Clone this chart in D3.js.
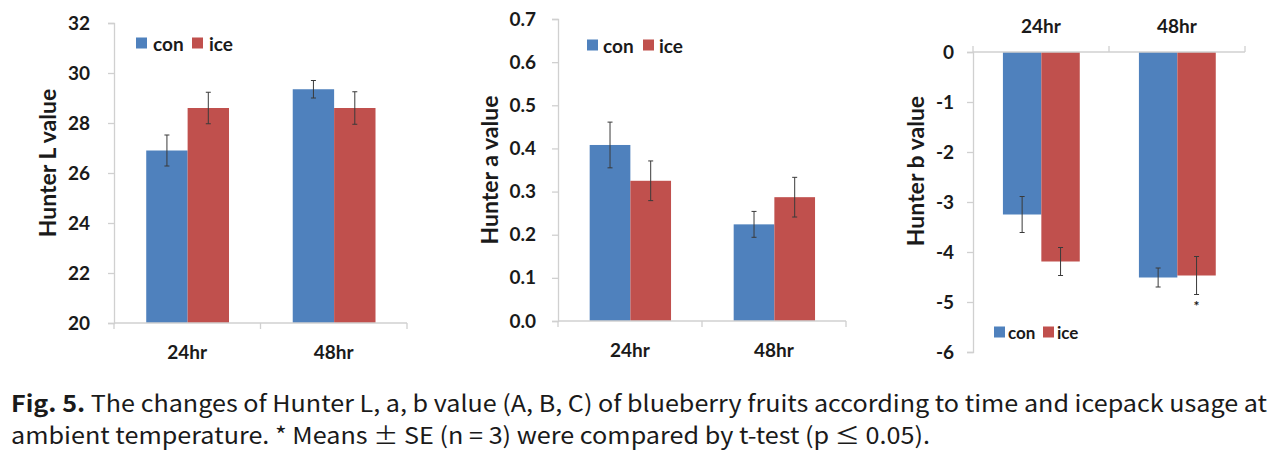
<!DOCTYPE html>
<html>
<head>
<meta charset="utf-8">
<script src="https://cdn.jsdelivr.net/npm/d3@7"></script>
<style>
  html, body { margin: 0; padding: 0; background: #fff; }
  svg { display: block; }
  .lbl { font-family: Lato, "DejaVu Sans", sans-serif; font-weight: 700; fill: #1a1a1a; }
</style>
</head>
<body>
<svg id="chart" width="1287" height="454"></svg>
<script>
// ---------------- data ----------------
const categories = ["24hr", "48hr"];
const series = ["con", "ice"];

const L_con = [26.9, 29.35];
const L_ice = [28.6, 28.6];
const L_con_se = [0.62, 0.35];
const L_ice_se = [0.63, 0.65];
const L_ticks = [20, 22, 24, 26, 28, 30, 32];

const a_con = [0.408, 0.224];
const a_ice = [0.325, 0.287];
const a_con_se = [0.053, 0.030];
const a_ice_se = [0.046, 0.046];
const a_ticks = [0.0, 0.1, 0.2, 0.3, 0.4, 0.5, 0.6, 0.7];

const b_con = [-3.25, -4.51];
const b_ice = [-4.19, -4.47];
const b_con_se = [0.36, 0.19];
const b_ice_se = [0.28, 0.38];
const b_ticks = [0, -1, -2, -3, -4, -5, -6];
const b_signif = ["", "*"]; // marker under ice bars

const yTitles = ["Hunter L value", "Hunter a value", "Hunter b value"];
const captionBold = "Fig. 5.";
const captionLine1 = " The changes of Hunter L, a, b value (A, B, C) of blueberry fruits according to time and icepack usage at";
const captionLine2 = "ambient temperature. * Means \u00B1 SE (n = 3) were compared by t-test (p \u2264 0.05).";

// ---------------- style ----------------
const colors = { con: "#4f81bd", ice: "#c0504d" };
const axisColor = "#d0d0d0";
const errColor = "#3a3a3a";

const svg = d3.select("#chart");
svg.append("rect").attr("width", 1287).attr("height", 454).attr("fill", "#fff");

function panel(cfg) {
  const g = svg.append("g");
  const x0 = d3.scaleBand().domain(categories).range([cfg.x0, cfg.x1]).padding(0);
  const bw = x0.bandwidth();
  const x1 = d3.scaleBand().domain(series).range([bw * 0.22, bw * 0.785]).padding(0);
  const y = d3.scaleLinear().domain(cfg.domain).range([cfg.yBottom, cfg.yTop]);

  const rows = [];
  categories.forEach((c, i) => {
    rows.push({ c, s: "con", v: cfg.con[i], e: cfg.conSe[i], m: "" });
    rows.push({ c, s: "ice", v: cfg.ice[i], e: cfg.iceSe[i], m: cfg.marks ? cfg.marks[i] : "" });
  });

  // bars
  g.selectAll("rect.bar").data(rows).enter().append("rect")
    .attr("class", "bar")
    .attr("x", d => x0(d.c) + x1(d.s))
    .attr("width", x1.bandwidth())
    .attr("y", d => Math.min(y(d.v), y(cfg.base)))
    .attr("height", d => Math.abs(y(d.v) - y(cfg.base)))
    .attr("fill", d => colors[d.s]);

  // error bars
  const eg = g.selectAll("g.err").data(rows).enter().append("g").attr("class", "err");
  const cx = d => x0(d.c) + x1(d.s) + x1.bandwidth() / 2;
  eg.append("line")
    .attr("x1", cx).attr("x2", cx)
    .attr("y1", d => y(d.v - d.e)).attr("y2", d => y(d.v + d.e))
    .attr("stroke", errColor).attr("stroke-width", 1);
  [1, -1].forEach(sgn => {
    eg.append("line")
      .attr("x1", d => cx(d) - 2.5).attr("x2", d => cx(d) + 2.5)
      .attr("y1", d => y(d.v + sgn * d.e)).attr("y2", d => y(d.v + sgn * d.e))
      .attr("stroke", errColor).attr("stroke-width", 1);
  });
  // significance markers
  eg.filter(d => d.m).append("text")
    .attr("class", "lbl")
    .attr("x", cx)
    .attr("y", d => y(d.v - d.e) + 16)
    .attr("text-anchor", "middle")
    .style("font-size", "14px")
    .text(d => d.m);

  // y axis
  const yAxis = d3.axisLeft(y).tickValues(cfg.ticks).tickSize(6).tickPadding(cfg.tickPad)
    .tickFormat(cfg.fmt);
  const ya = g.append("g").attr("transform", `translate(${cfg.x0},0)`).call(yAxis);
  ya.select(".domain").attr("stroke", axisColor).attr("stroke-width", 1.3);
  ya.selectAll(".tick line").attr("stroke", axisColor).attr("stroke-width", 1.3);
  ya.selectAll(".tick text").attr("class", "lbl").style("font-size", "19px").attr("fill", "#1a1a1a");

  // x axis (category boundaries ticks)
  const xBase = y(cfg.base);
  const bounds = [cfg.x0].concat(categories.map(c => x0(c) + bw));
  g.append("line").attr("x1", cfg.x0).attr("x2", cfg.x1).attr("y1", xBase).attr("y2", xBase)
    .attr("stroke", axisColor).attr("stroke-width", 1.3);
  g.selectAll("line.xt").data(bounds).enter().append("line").attr("class", "xt")
    .attr("x1", d => d).attr("x2", d => d)
    .attr("y1", xBase).attr("y2", xBase + cfg.xTickDir * 6)
    .attr("stroke", axisColor).attr("stroke-width", 1.3);
  g.selectAll("text.xl").data(categories).enter().append("text")
    .attr("class", "lbl")
    .attr("x", d => x0(d) + bw / 2)
    .attr("y", cfg.catY)
    .attr("text-anchor", "middle")
    .attr("dominant-baseline", "central")
    .style("font-size", "19px")
    .text(d => d);

  // y title
  g.append("text").attr("class", "lbl")
    .attr("transform", `translate(${cfg.titleX},${cfg.titleY}) rotate(-90)`)
    .attr("text-anchor", "middle")
    .attr("dominant-baseline", "central")
    .style("font-size", "23px")
    .text(cfg.title);

  // legend
  const lg = g.append("g").attr("transform", `translate(${cfg.legX},${cfg.legY})`);
  const items = lg.selectAll("g").data(series).enter().append("g")
    .attr("transform", (d, i) => `translate(${i * cfg.legStep},0)`);
  items.append("rect").attr("x", 0).attr("y", -5.5).attr("width", 11).attr("height", 11)
    .attr("fill", d => colors[d]);
  items.append("text").attr("class", "lbl")
    .attr("x", cfg.legTextDx).attr("y", 0)
    .attr("dominant-baseline", "central")
    .style("font-size", cfg.legFont + "px")
    .text(d => d);
}

const plainInt = d => String(d);
const oneDec = d => d.toFixed(1);

panel({
  x0: 114, x1: 407, yTop: 23, yBottom: 323, domain: [20, 32], base: 20,
  con: L_con, ice: L_ice, conSe: L_con_se, iceSe: L_ice_se,
  ticks: L_ticks, fmt: plainInt, tickPad: 18,
  xTickDir: 1, catY: 351, title: yTitles[0], titleX: 47, titleY: 163,
  legX: 136, legY: 43, legStep: 56, legTextDx: 17, legFont: 19
});

panel({
  x0: 558, x1: 846, yTop: 19, yBottom: 321, domain: [0, 0.7], base: 0,
  con: a_con, ice: a_ice, conSe: a_con_se, iceSe: a_ice_se,
  ticks: a_ticks, fmt: oneDec, tickPad: 16,
  xTickDir: 1, catY: 349, title: yTitles[1], titleX: 489, titleY: 170,
  legX: 587, legY: 45, legStep: 56, legTextDx: 16, legFont: 19
});

panel({
  x0: 973, x1: 1245, yTop: 52, yBottom: 352, domain: [-6, 0], base: 0,
  con: b_con, ice: b_ice, conSe: b_con_se, iceSe: b_ice_se, marks: b_signif,
  ticks: b_ticks, fmt: plainInt, tickPad: 13,
  xTickDir: -1, catY: 25, title: yTitles[2], titleX: 915, titleY: 171,
  legX: 994, legY: 332, legStep: 49, legTextDx: 14, legFont: 17
});

// caption
const cap = svg.append("g").style("font-family", '"Noto Sans CJK KR", "Noto Sans", sans-serif').attr("fill", "#1a1a1a");
const t1 = cap.append("text").attr("x", 11).attr("y", 412).style("font-size", "23px")
  .attr("textLength", 1256).attr("lengthAdjust", "spacingAndGlyphs");
t1.append("tspan").style("font-weight", 700).text(captionBold);
t1.append("tspan").style("font-weight", 400).text(captionLine1);
cap.append("text").attr("x", 11).attr("y", 444).style("font-size", "23px")
  .attr("textLength", 919).attr("lengthAdjust", "spacingAndGlyphs")
  .text(captionLine2);
</script>
</body>
</html>
